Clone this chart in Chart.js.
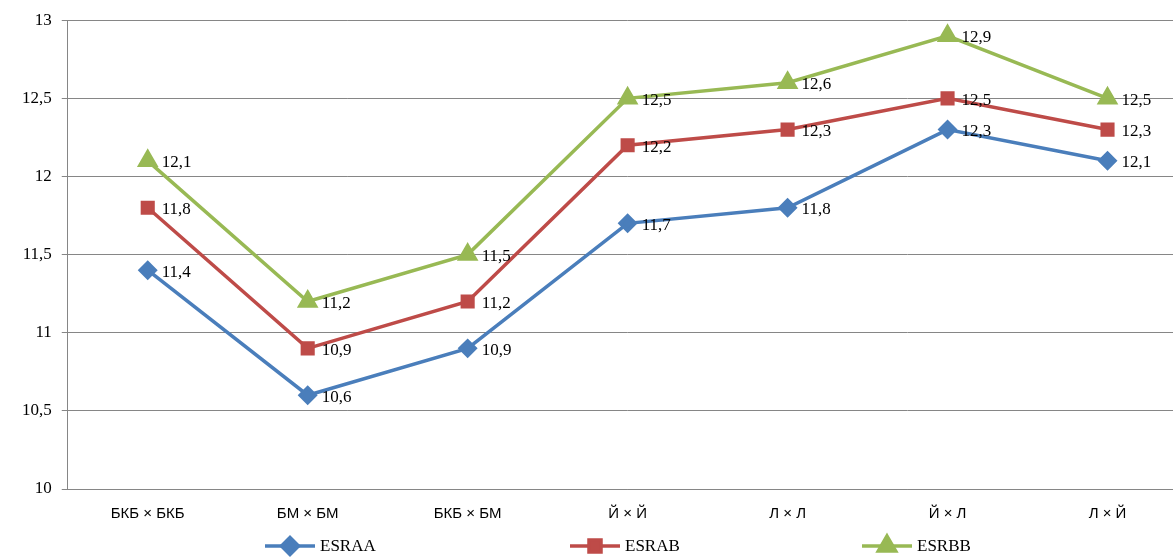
<!DOCTYPE html>
<html>
<head>
<meta charset="utf-8">
<script src="https://cdn.jsdelivr.net/npm/chart.js@4"></script>
<style>
  html, body { margin: 0; padding: 0; background: #fff; overflow: hidden; }
  #wrap { width: 1200px; height: 558px; }
</style>
</head>
<body>
<div id="wrap"><canvas id="chart"></canvas></div>
<script>
  // categories and series
  const categories = ['БКБ × БКБ', 'БМ × БМ', 'БКБ × БМ', 'Й × Й', 'Л × Л', 'Й × Л', 'Л × Й'];
  const esraa = [11.4, 10.6, 10.9, 11.7, 11.8, 12.3, 12.1];
  const esrab = [11.8, 10.9, 11.2, 12.2, 12.3, 12.5, 12.3];
  const esrbb = [12.1, 11.2, 11.5, 12.5, 12.6, 12.9, 12.5];
  const legendX = [265, 570, 862];

  const fmt = v => v.toString().replace('.', ',');

  // draws value labels to the right of each point
  const valueLabels = {
    id: 'valueLabels',
    afterDatasetsDraw(chart) {
      const ctx = chart.ctx;
      ctx.save();
      ctx.font = '17px "Liberation Serif", serif';
      ctx.fillStyle = '#000';
      ctx.textBaseline = 'middle';
      chart.data.datasets.forEach((ds, i) => {
        chart.getDatasetMeta(i).data.forEach((pt, j) => {
          ctx.fillText(fmt(ds.data[j]), pt.x + 14, pt.y + 2);
        });
      });
      ctx.restore();
    }
  };

  // legend drawn by hand: line with marker in the middle
  const bottomLegend = {
    id: 'bottomLegend',
    afterDraw(chart) {
      const ctx = chart.ctx;
      const y = 546;
      ctx.save();
      chart.data.datasets.forEach((ds, i) => {
        const x0 = legendX[i];
        ctx.strokeStyle = ds.borderColor;
        ctx.lineWidth = 3.5;
        ctx.beginPath();
        ctx.moveTo(x0, y);
        ctx.lineTo(x0 + 50, y);
        ctx.stroke();
        ctx.fillStyle = ds.backgroundColor;
        ctx.strokeStyle = ds.backgroundColor;
        Chart.helpers.drawPoint(ctx, {
          pointStyle: ds.pointStyle, radius: ds.pointRadius + 1, borderWidth: 1, rotation: 0
        }, x0 + 25, y);
        ctx.fillStyle = '#000';
        ctx.font = '17px "Liberation Serif", serif';
        ctx.textBaseline = 'middle';
        ctx.fillText(ds.label, x0 + 55, y + 1);
      });
      ctx.restore();
    }
  };

  new Chart(document.getElementById('chart'), {
    type: 'line',
    data: {
      labels: categories,
      datasets: [
        { label: 'ESRAA', data: esraa, borderColor: '#4a7ebb', backgroundColor: '#4a7ebb',
          borderWidth: 3.5, pointStyle: 'rectRot', pointRadius: 7.5, pointHoverRadius: 7.5, tension: 0 },
        { label: 'ESRAB', data: esrab, borderColor: '#be4b48', backgroundColor: '#be4b48',
          borderWidth: 3.5, pointStyle: 'rect', pointRadius: 7.5, pointHoverRadius: 7.5, tension: 0 },
        { label: 'ESRBB', data: esrbb, borderColor: '#98b954', backgroundColor: '#98b954',
          borderWidth: 3.5, pointStyle: 'triangle', pointRadius: 9, pointHoverRadius: 9, tension: 0 }
      ]
    },
    options: {
      responsive: true,
      maintainAspectRatio: false,
      animation: false,
      layout: { padding: { top: 18, right: 0, left: 12, bottom: 27 } },
      plugins: {
        tooltip: { enabled: false },
        legend: { display: false }
      },
      scales: {
        x: {
          offset: true,
          grid: { display: false },
          border: { color: '#868686' },
          ticks: { color: '#000', font: { family: '"Liberation Sans", sans-serif', size: 15 }, padding: 8 }
        },
        y: {
          min: 10, max: 13,
          ticks: { stepSize: 0.5, color: '#000', padding: 10,
                   font: { family: '"Liberation Serif", serif', size: 17 },
                   callback: v => fmt(v) },
          grid: { color: '#868686', tickLength: 6 },
          border: { color: '#868686' }
        }
      }
    },
    plugins: [valueLabels, bottomLegend]
  });
</script>
</body>
</html>
